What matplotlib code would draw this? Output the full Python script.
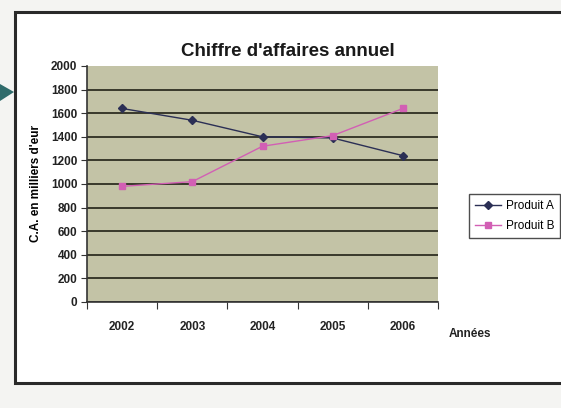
import matplotlib
matplotlib.use("Agg")
import matplotlib.pyplot as plt
from matplotlib.patches import Rectangle, Polygon
from matplotlib.lines import Line2D

years = ["2002", "2003", "2004", "2005", "2006"]
produit_a = [1640, 1540, 1400, 1390, 1240]
produit_b = [980, 1020, 1320, 1410, 1640]
yticks = [0, 200, 400, 600, 800, 1000, 1200, 1400, 1600, 1800, 2000]

plt.rcParams['font.family'] = ['Liberation Sans', 'DejaVu Sans']

fig = plt.figure(figsize=(5.61, 4.08), dpi=100)
fig.patch.set_facecolor('#f4f4f2')

W, H = 561, 408
def fx(x): return x / W
def fy(y): return 1 - y / H

# outer chart frame
fig.patches.append(Rectangle((fx(15), fy(383)), fx(561 + 10) - fx(15), fy(12) - fy(383),
                             transform=fig.transFigure, fill=True, facecolor='white',
                             edgecolor='#2a2a2a', linewidth=2.2, zorder=-5))
# teal arrow tip at left
fig.patches.append(Polygon([(fx(0), fy(84)), (fx(14), fy(92)), (fx(0), fy(101))],
                           closed=True, transform=fig.transFigure,
                           facecolor='#2f6b6b', edgecolor='none', zorder=-4))

ax = fig.add_axes([fx(87), fy(302), fx(438) - fx(87), fy(66) - fy(302)])
ax.set_zorder(2)
ax.set_facecolor('#c3c3a6')
x = list(range(len(years)))
ax.plot(x, produit_a, color='#2b2f55', marker='D', markersize=4.5, linewidth=1.0,
        label='Produit A', zorder=3)
ax.plot(x, produit_b, color='#d25fb4', marker='s', markersize=5, linewidth=1.0,
        label='Produit B', zorder=3)

ax.set_xlim(-0.5, len(years) - 0.5)
ax.set_ylim(0, 2000)
ax.set_yticks(yticks)
ax.set_yticklabels([str(v) for v in yticks], fontsize=8.5, fontweight='bold', color='#222222')
ax.set_xticks([i - 0.5 for i in range(len(years) + 1)], minor=False)
ax.set_xticklabels([])
ax.set_xticks(x, minor=True)
ax.set_xticklabels(years, minor=True, fontsize=8.5, fontweight='bold', color='#222222')
ax.tick_params(axis='x', which='minor', length=0, pad=14)
ax.tick_params(axis='x', which='major', length=5, direction='out', color='#333333')
ax.tick_params(axis='y', length=4, direction='out', color='#333333', pad=3)
ax.grid(axis='y', color='#2e2e22', linewidth=1.3)
ax.set_axisbelow(True)
ygl = ax.get_ygridlines()
ygl[-1].set_visible(False)
for side in ['top', 'right']:
    ax.spines[side].set_visible(False)
for side in ['left', 'bottom']:
    ax.spines[side].set_color('#333333')
    ax.spines[side].set_linewidth(1.2)

ax.set_ylabel("C.A. en milliers d'eur", fontsize=8.5, fontweight='bold', labelpad=6)

fig.text(fx(288), fy(52), "Chiffre d'affaires annuel", fontsize=13.5, fontweight='bold',
         ha='center', va='center', color='#1a1a1a')
fig.text(fx(449), fy(334), "Années", fontsize=8.5, fontweight='bold', ha='left', va='center',
         color='#222222')

leg = fig.legend(handles=[Line2D([], [], color='#2b2f55', marker='D', markersize=4.5, linewidth=1.0),
                          Line2D([], [], color='#d25fb4', marker='s', markersize=5, linewidth=1.0)],
                 labels=['Produit A', 'Produit B'], loc='upper left',
                 bbox_to_anchor=(fx(463), fy(188)), fontsize=8.5, frameon=True,
                 fancybox=False, edgecolor='#222222', handlelength=2.2,
                 borderpad=0.5, labelspacing=0.7, handletextpad=0.4)
leg.get_frame().set_linewidth(1.0)
leg.set_zorder(3)

fig.savefig('out.png', dpi=100, facecolor=fig.get_facecolor())
